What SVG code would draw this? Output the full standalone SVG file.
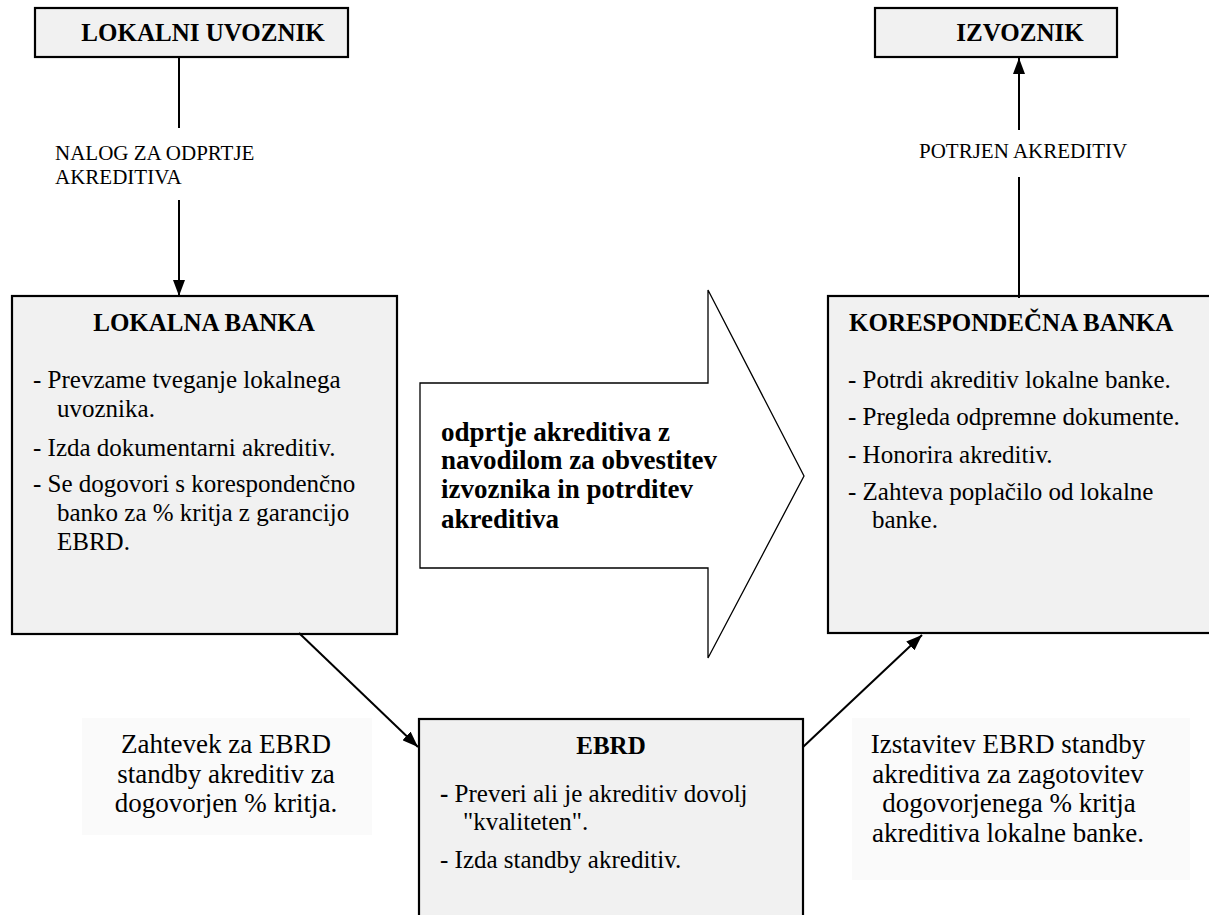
<svg xmlns="http://www.w3.org/2000/svg" width="1209" height="915" viewBox="0 0 1209 915">
<style>
text{font-family:'Liberation Serif','Times New Roman',serif;fill:#000}
.box{fill:#f1f1f1;stroke:#000;stroke-width:2.2}
.t{font-size:25px;font-weight:bold}
.b{font-size:25px}
.s{font-size:21px}
.l{font-size:27px}
.a{font-size:27px;font-weight:bold}
.c{stroke:#000;stroke-width:2;fill:none}
.lab{fill:#fafafa;stroke:none}
</style>
<defs>
<marker id="ah" viewBox="0 0 16 12" refX="16" refY="6" markerWidth="16" markerHeight="12" markerUnits="userSpaceOnUse" orient="auto">
<path d="M0,0 L16,6 L0,12 Z" fill="#000"/>
</marker>
</defs>
<g id="lokalni-uvoznik">
<rect class="box" x="35" y="8" width="313" height="49"/>
<text class="t" x="203" y="41" text-anchor="middle">LOKALNI UVOZNIK</text>
</g>
<g id="izvoznik">
<rect class="box" x="875" y="8" width="242" height="49"/>
<text class="t" x="1020" y="41" text-anchor="middle">IZVOZNIK</text>
</g>
<g id="lokalna-banka">
<rect class="box" x="12" y="296" width="385" height="338"/>
<text class="t" x="204" y="331" text-anchor="middle">LOKALNA BANKA</text>
<text class="b" x="33" y="388">- Prevzame tveganje lokalnega</text>
<text class="b" x="57" y="417">uvoznika.</text>
<text class="b" x="33" y="456">- Izda dokumentarni akreditiv.</text>
<text class="b" x="33" y="492">- Se dogovori s korespondenčno</text>
<text class="b" x="57" y="521">banko za % kritja z garancijo</text>
<text class="b" x="57" y="550">EBRD.</text>
</g>
<g id="korespondecna-banka">
<rect class="box" x="828" y="296" width="400" height="337"/>
<text class="t" x="849" y="331">KORESPONDEČNA BANKA</text>
<text class="b" x="848" y="388">- Potrdi akreditiv lokalne banke.</text>
<text class="b" x="848" y="425">- Pregleda odpremne dokumente.</text>
<text class="b" x="848" y="463">- Honorira akreditiv.</text>
<text class="b" x="848" y="500">- Zahteva poplačilo od lokalne</text>
<text class="b" x="872" y="528">banke.</text>
</g>
<g id="ebrd">
<rect class="box" x="419" y="719" width="384" height="220"/>
<text class="t" x="611" y="754" text-anchor="middle">EBRD</text>
<text class="b" x="440" y="802"><tspan font-weight="bold">-</tspan> Preveri ali je akreditiv dovolj</text>
<text class="b" x="463" y="830">"kvaliteten".</text>
<text class="b" x="440" y="868">- Izda standby akreditiv.</text>
</g>
<g id="big-arrow">
<path d="M420,383 L708,383 L708,290 L804,476 L708,658 L708,568 L420,568 Z" fill="#fff" stroke="#000" stroke-width="1.3"/>
<text class="a" x="441" y="441">odprtje akreditiva z</text>
<text class="a" x="441" y="469">navodilom za obvestitev</text>
<text class="a" x="441" y="498">izvoznika in potrditev</text>
<text class="a" x="441" y="528">akreditiva</text>
</g>
<g id="label-zahtevek">
<rect class="lab" x="82" y="718" width="290" height="117"/>
<text class="l" x="226" y="753" text-anchor="middle">Zahtevek za EBRD</text>
<text class="l" x="226" y="783" text-anchor="middle">standby akreditiv za</text>
<text class="l" x="226" y="812" text-anchor="middle">dogovorjen % kritja.</text>
</g>
<g id="label-izstavitev">
<rect class="lab" x="852" y="718" width="338" height="162"/>
<text class="l" x="1008" y="753" text-anchor="middle">Izstavitev EBRD standby</text>
<text class="l" x="1008" y="783" text-anchor="middle">akreditiva za zagotovitev</text>
<text class="l" x="1009" y="812" text-anchor="middle">dogovorjenega % kritja</text>
<text class="l" x="1008" y="842" text-anchor="middle">akreditiva lokalne banke.</text>
</g>
<g id="connectors">
<line class="c" x1="179" y1="57" x2="179" y2="128"/>
<text class="s" x="55" y="160">NALOG ZA ODPRTJE</text>
<text class="s" x="55" y="184">AKREDITIVA</text>
<line class="c" x1="179" y1="200" x2="179" y2="296" marker-end="url(#ah)"/>
<line class="c" x1="1019" y1="298" x2="1019" y2="177"/>
<text class="s" x="919" y="158">POTRJEN AKREDITIV</text>
<line class="c" x1="1019" y1="130" x2="1019" y2="58" marker-end="url(#ah)"/>
<line class="c" x1="299" y1="633" x2="418" y2="747" marker-end="url(#ah)"/>
<line class="c" x1="803" y1="747" x2="922" y2="635" marker-end="url(#ah)"/>
</g>
</svg>
